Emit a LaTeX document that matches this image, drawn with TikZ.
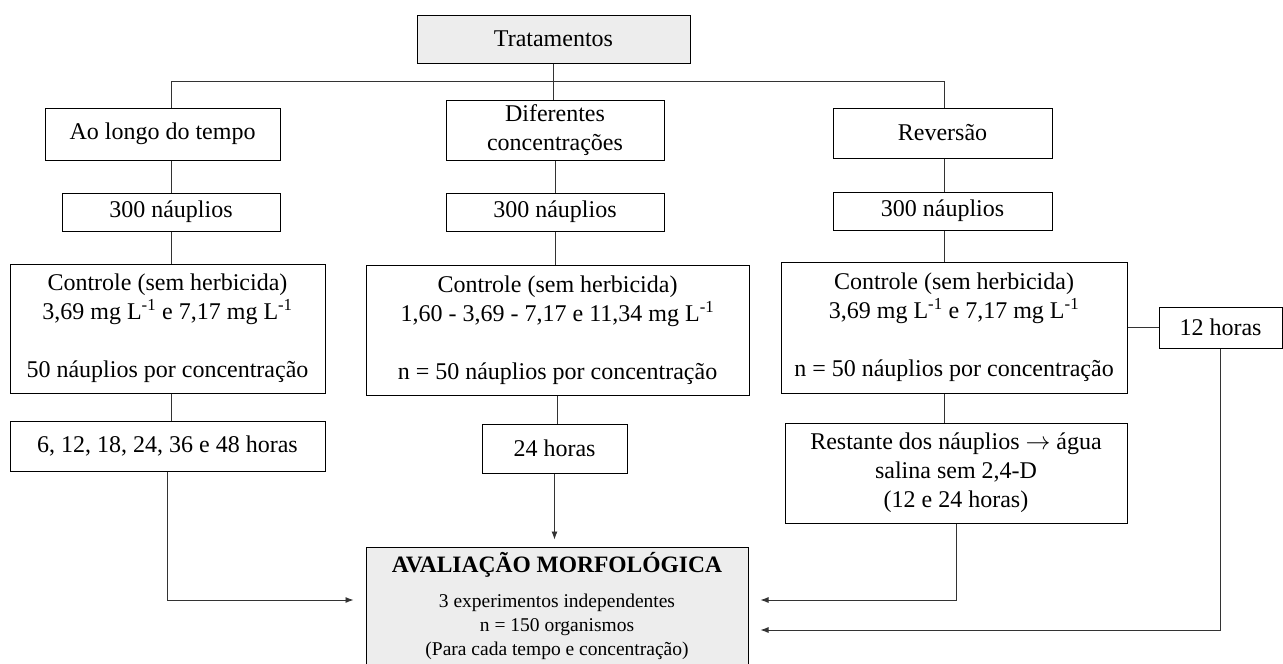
\documentclass[tikz,border=0pt]{standalone}
\usepackage{fontspec}
\setmainfont{Liberation Serif}
\usetikzlibrary{arrows.meta}

\begin{document}
\begin{tikzpicture}[x=1pt, y=-1pt,
  box/.style = {draw, line width=1pt, inner sep=0pt, align=center, font=\fontsize{24}{29}\selectfont},
  graybox/.style = {box, fill=black!7},
  link/.style = {line width=0.9pt, draw=black!80},
  arrow/.style = {link, -{Latex[length=8pt,width=6pt]}, shorten >=12pt}]
	\useasboundingbox (0,0) rectangle (1283,664);
	% top
	\node[graybox, minimum width=273, minimum height=48] (trat) at (553.5,39) {Tratamentos};
	\node[box, minimum width=235, minimum height=52] (tempo) at (162.5,134) {Ao longo do tempo};
	\node[box, minimum width=218, minimum height=60] (conc) at (555,130) {Diferentes\\concentrações};
	\node[box, minimum width=219, minimum height=50] (rev) at (942.5,133) {Reversão};
	% 300 nauplios
	\node[box, minimum width=218, minimum height=38] (naup1) at (171,212) {300 náuplios};
	\node[box, minimum width=218, minimum height=38] (naup2) at (555,212) {300 náuplios};
	\node[box, minimum width=219, minimum height=38] (naup3) at (942.5,211) {300 náuplios};
	% controles
	\node[box, minimum width=315, minimum height=129] (ctl1) at (167.5,328.5)
		{Controle (sem herbicida)\\3,69 mg L\textsuperscript{-1} e 7,17 mg L\textsuperscript{-1}\\[29pt]50 náuplios por concentração};
	\node[box, minimum width=383, minimum height=130] (ctl2) at (557.5,330)
		{Controle (sem herbicida)\\1,60 - 3,69 - 7,17 e 11,34 mg L\textsuperscript{-1}\\[29pt]n = 50 náuplios por concentração};
	\node[box, minimum width=346, minimum height=131] (ctl3) at (954,327.5)
		{Controle (sem herbicida)\\3,69 mg L\textsuperscript{-1} e 7,17 mg L\textsuperscript{-1}\\[29pt]n = 50 náuplios por concentração};
	\node[box, minimum width=123, minimum height=41] (h12) at (1220.5,327.5) {12 horas};
	% tempos
	\node[box, minimum width=315, minimum height=50] (temp1) at (167.5,446) {6, 12, 18, 24, 36 e 48 horas};
	\node[box, minimum width=145, minimum height=49] (temp2) at (554.5,448.5) {24 horas};
	\node[box, minimum width=342, minimum height=100] (rest) at (956,473)
		{Restante dos náuplios $\rightarrow$ água\\salina sem 2,4-D\\(12 e 24 horas)};
	% avaliacao
	\node[graybox, minimum width=382, minimum height=117, font=\fontsize{19.5}{24}\selectfont] (aval) at (557,605.5)
		{{\bfseries\fontsize{23.5}{28}\selectfont AVALIAÇÃO MORFOLÓGICA}\\[11pt]3 experimentos independentes\\n = 150 organismos\\(Para cada tempo e concentração)};

	\coordinate (bus1) at (171,81);
	\coordinate (bus3) at (944,81);
	\draw[link] (trat.south) -- (trat.south |- conc.north);
	\draw[link] (tempo.north -| bus1) -- (bus1) -- (bus3) -- (rev.north -| bus3);
	\draw[link] (tempo.south -| bus1) -- (naup1.north -| bus1);
	\draw[link] (naup1.south -| bus1) -- (ctl1.north -| bus1);
	\draw[link] (ctl1.south -| bus1) -- (temp1.north -| bus1);
	\draw[link] (conc.south) -- (naup2.north);
	\draw[link] (naup2.south) -- (naup2.south |- ctl2.north);
	\draw[link] (ctl2.south) -- (ctl2.south |- temp2.north);
	\draw[link] (rev.south -| bus3) -- (naup3.north -| bus3);
	\draw[link] (naup3.south -| bus3) -- (ctl3.north -| bus3);
	\draw[link] (ctl3.south -| bus3) -- (rest.north -| bus3);
	\draw[link] (ctl3.east) -- (h12.west);
	\draw[arrow, shorten >=7pt] (temp2.south) -- (temp2.south |- aval.north);
	\draw[arrow] (temp1.south) |- ([yshift=5.5pt]aval.west);
	\draw[arrow] (rest.south) |- ([yshift=5.5pt]aval.east);
	\draw[arrow] (h12.south) |- ([yshift=-24.5pt]aval.east);
\end{tikzpicture}
\end{document}
